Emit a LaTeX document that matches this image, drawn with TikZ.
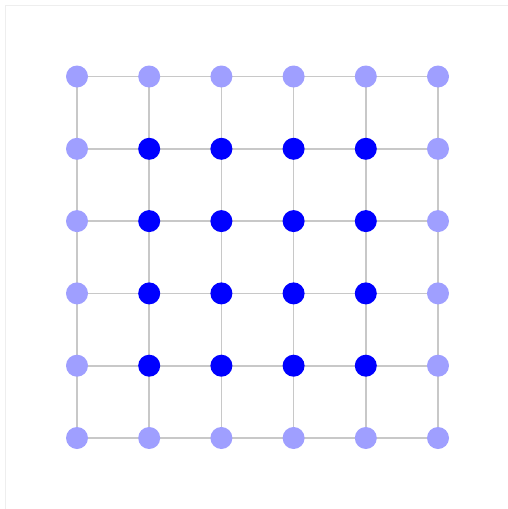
\documentclass[tikz,border=0pt]{standalone}
\usetikzlibrary{backgrounds}
\definecolor{outerdot}{HTML}{9F9FFF}
\definecolor{innerdot}{HTML}{0000FF}
\definecolor{gridline}{HTML}{C8C8C8}
\definecolor{frameline}{HTML}{EEEEEE}
\tikzset{
  dot/.style={circle, inner sep=0pt, minimum size=22pt, draw=none},
  outerpt/.style={dot, fill=outerdot},
  innerpt/.style={dot, fill=innerdot},
  gridedge/.style={draw=gridline, line width=1.6pt},
}
\begin{document}
\begin{tikzpicture}[x=1pt,y=-1pt]
\useasboundingbox (0,0) rectangle (508,509);
\draw[frameline, line width=1pt] (5.5,509) -- (5.5,5.5) -- (508,5.5);
\foreach \i in {0,...,5}{
  \foreach \j in {0,...,5}{
    \pgfmathsetmacro{\px}{77+72.2*\i}
    \pgfmathsetmacro{\py}{76.5+72.3*\j}
    \ifnum\i=0 \def\st{outerpt}\else\ifnum\i=5 \def\st{outerpt}\else
      \ifnum\j=0 \def\st{outerpt}\else\ifnum\j=5 \def\st{outerpt}\else\def\st{innerpt}\fi\fi\fi\fi
    \node[\st] (p\i\j) at (\px,\py) {};
  }
}
\begin{scope}[on background layer]
\foreach \i in {0,...,5}{
  \draw[gridedge] (p\i0.center) -- (p\i5.center);
  \draw[gridedge] (p0\i.center) -- (p5\i.center);
}
\end{scope}
\end{tikzpicture}
\end{document}
